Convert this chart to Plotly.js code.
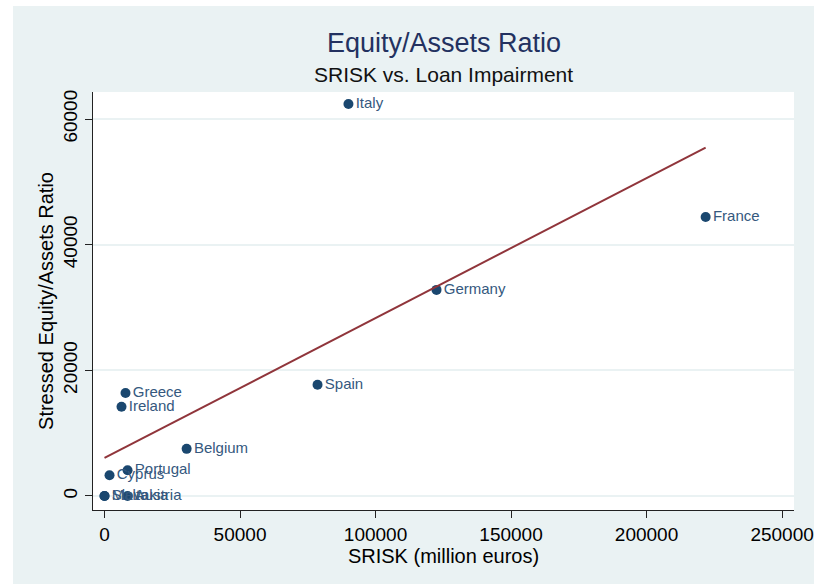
<!DOCTYPE html>
<html>
<head>
<meta charset="utf-8">
<script src="https://cdn.plot.ly/plotly-3.0.1.min.js"></script>
<style>
  html, body { margin: 0; padding: 0; background: #ffffff; }
  #chart { position: absolute; left: 13px; top: 6px; width: 801px; height: 578px; }
</style>
</head>
<body>
<div id="chart"></div>
<script>
// Data
const countries = ["Italy", "France", "Germany", "Spain", "Greece", "Ireland", "Belgium", "Portugal", "Cyprus", "Slovakia", "Malta", "Austria"];
const srisk = [90000, 221800, 122500, 78600, 7750, 6270, 30300, 8500, 1850, 0, 0, 8500];
const stressedRatio = [62400, 44400, 32800, 17700, 16400, 14200, 7500, 4100, 3300, 0, 0, 0];
// Fitted line endpoints
const fitX = [0, 221800];
const fitY = [6050, 55450];

const xTicks = [0, 50000, 100000, 150000, 200000, 250000];
const yTicks = [0, 20000, 40000, 60000];

const FONT = "Liberation Sans, Arial, sans-serif";
const NAVY = "#1a476f";

const traces = [
  {
    type: "scatter",
    mode: "markers+text",
    x: srisk,
    y: stressedRatio,
    text: countries,
    textposition: "middle right",
    textfont: { family: FONT, size: 15, color: "#35587e" },
    marker: { color: NAVY, size: 10 },
    cliponaxis: false,
    hoverinfo: "x+y+text"
  },
  {
    type: "scatter",
    mode: "lines",
    x: fitX,
    y: fitY,
    line: { color: "#90353b", width: 2 },
    hoverinfo: "skip"
  }
];

const layout = {
  width: 801,
  height: 578,
  paper_bgcolor: "#eaf2f3",
  plot_bgcolor: "#ffffff",
  showlegend: false,
  margin: { l: 80, r: 20, t: 86, b: 74 },
  font: { family: FONT, color: "#000000" },
  xaxis: {
    range: [-4250, 254400],
    tickvals: xTicks,
    ticktext: xTicks.map(String),
    showgrid: false,
    zeroline: false,
    showline: true,
    linecolor: "#222222",
    linewidth: 1,
    ticks: "outside",
    ticklen: 7,
    tickcolor: "#222222",
    tickfont: { family: FONT, size: 19, color: "#000" },
    title: { text: "SRISK (million euros)", font: { family: FONT, size: 20, color: "#000" }, standoff: 0 }
  },
  yaxis: {
    range: [-2230, 64300],
    tickvals: yTicks,
    ticktext: yTicks.map(String),
    tickangle: -90,
    showgrid: true,
    gridcolor: "#eaf2f3",
    gridwidth: 2,
    zeroline: false,
    showline: true,
    linecolor: "#222222",
    linewidth: 1,
    ticks: "outside",
    ticklen: 7,
    tickcolor: "#222222",
    tickfont: { family: FONT, size: 19, color: "#000" },
    title: { text: "Stressed Equity/Assets Ratio", font: { family: FONT, size: 20, color: "#000" }, standoff: 1 }
  },
  annotations: [
    {
      text: "Equity/Assets Ratio",
      xref: "paper", yref: "paper", x: 0.5, y: 1.117,
      xanchor: "center", yanchor: "middle", showarrow: false,
      font: { family: FONT, size: 27, color: "#233160" }
    },
    {
      text: "SRISK vs. Loan Impairment",
      xref: "paper", yref: "paper", x: 0.5, y: 1.0407,
      xanchor: "center", yanchor: "middle", showarrow: false,
      font: { family: FONT, size: 21, color: "#111111" }
    }
  ]
};

Plotly.newPlot("chart", traces, layout, { displayModeBar: false, responsive: false });
</script>
</body>
</html>
